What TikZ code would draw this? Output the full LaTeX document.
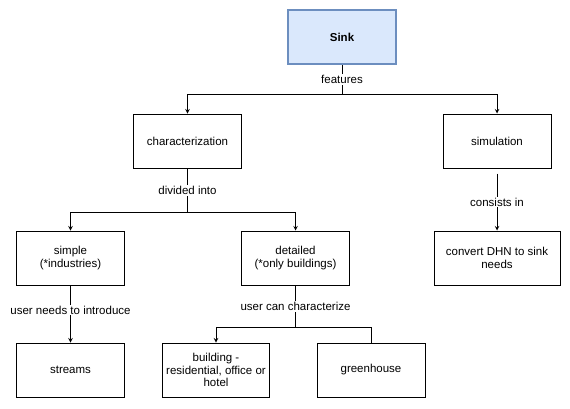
\documentclass[tikz,border=0pt]{standalone}
\usepackage{fontspec}
\setmainfont{Liberation Sans}
\definecolor{sinkfill}{RGB}{218,232,252}
\definecolor{sinkline}{RGB}{108,142,191}

\begin{document}
\begin{tikzpicture}[x=1pt, y=-1pt, >=stealth]
            \tikzstyle{every node} = [font=\fontsize{11.5}{13.5}\selectfont]
            \tikzstyle{box} = [draw, line width=1pt, minimum width=108pt, minimum height=54pt, align=center]
            \tikzstyle{lbl} = [fill=white, inner sep=1pt]
            \tikzstyle{link} = [line width=1pt]
            \useasboundingbox (0, 0) rectangle (570, 408);

            \node[box, fill=sinkfill, draw=sinkline, line width=2pt, font=\fontsize{11.5}{13.5}\selectfont\bfseries] (sink) at (342, 37) {Sink};
            \node[box] (char) at (187.5, 141) {characterization};
            \node[box] (sim) at (497, 141) {simulation};
            \node[box] (simple) at (70.5, 258) {simple\\(*industries)};
            \node[box] (detail) at (295.5, 258) {detailed\\(*only buildings)};
            \node[box, minimum width=126pt] (convert) at (497, 258) {convert DHN to sink\\needs};
            \node[box] (streams) at (70.5, 370) {streams};
            \node[box, minimum width=104pt, font=\fontsize{11.5}{12.5}\selectfont] (building) at (216, 370) {building -\\residential, office or\\hotel};
            \node[box] (green) at (371, 370) {greenhouse};

            \draw[link, ->] (sink.south) -- node[lbl]{features} (342, 94) coordinate (j1) -| (char.north);
            \draw[link, ->] (j1) -| (sim.north);

            \draw[link, ->] (char.south) -- node[lbl]{divided into} ++(0, 44) coordinate (j3) -| (simple.north);
            \draw[link, ->] (j3) -| (detail.north);

            \draw[link, ->] (sim.south) ++(0, 5) -- node[lbl]{consists in} (convert.north);

            \draw[link, ->] (simple.south) -- node[lbl, pos=0.43]{user needs to introduce} (streams.north);

            \draw[link, ->] (detail.south) -- node[lbl]{user can characterize} ++(0, 42) coordinate (j4) -| (building.north);
            \draw[link] (j4) -| (green.north);
\end{tikzpicture}
\end{document}
